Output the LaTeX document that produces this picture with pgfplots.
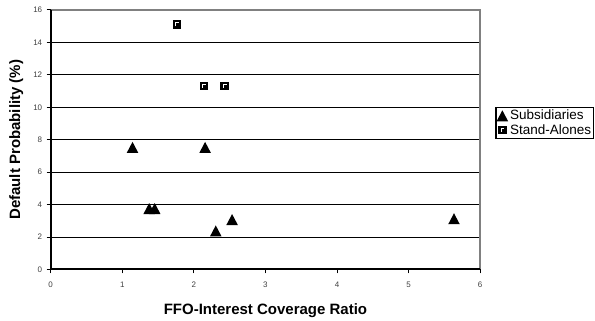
\documentclass[border=0pt]{standalone}
\usepackage{fontspec}
\setmainfont{Liberation Sans}
\usepackage{pgfplots}
\pgfplotsset{compat=1.18}
\pgfdeclareplotmark{excelsq}{%
  \pgfpathrectangle{\pgfpoint{-\pgfplotmarksize}{-\pgfplotmarksize}}{\pgfpoint{2\pgfplotmarksize}{2\pgfplotmarksize}}%
  \pgfsetfillcolor{black}\pgfusepath{fill}%
  \pgfsetstrokecolor{white}\pgfsetlinewidth{1pt}%
  \pgfpathmoveto{\pgfpoint{-0.3\pgfplotmarksize}{-0.45\pgfplotmarksize}}%
  \pgfpathlineto{\pgfpoint{-0.3\pgfplotmarksize}{0.35\pgfplotmarksize}}%
  \pgfpathlineto{\pgfpoint{0.45\pgfplotmarksize}{0.35\pgfplotmarksize}}%
  \pgfusepath{stroke}%
}
\pgfdeclareplotmark{exceltri}{%
  \pgfpathmoveto{\pgfpoint{0pt}{\pgfplotmarksize}}%
  \pgfpathlineto{\pgfpoint{1.05\pgfplotmarksize}{-\pgfplotmarksize}}%
  \pgfpathlineto{\pgfpoint{-1.05\pgfplotmarksize}{-\pgfplotmarksize}}%
  \pgfpathclose
  \pgfsetfillcolor{black}\pgfusepath{fill}%
}
\begin{document}
\begin{tikzpicture}
\begin{axis}[
  at={(0,0)}, anchor=origin,
  scale only axis, width=429.5pt, height=259.5pt,
  xmin=0, xmax=6, ymin=0, ymax=16,
  xtick={0,1,...,6}, ytick={0,2,...,16},
  ymajorgrids, grid style={black, line width=1pt},
  axis line style={draw=none},
  tick style={black, line width=1pt},
  tick align=outside, major tick length=4pt,
  xtick pos=bottom, ytick pos=left,
  ticklabel style={font=\fontsize{8}{9}\selectfont, text=black!75},
  xticklabel style={anchor=north, yshift=-5pt},
  yticklabel style={anchor=east, xshift=-1pt},
  /pgf/number format/assume math mode=true,
  xlabel={\bfseries FFO-Interest Coverage Ratio},
  ylabel={\bfseries Default Probability (\%)},
  label style={font=\fontsize{15}{16}\selectfont},
  xlabel style={at={(axis description cs:0.5,0)}, anchor=base, yshift=-45.5pt},
  ylabel style={at={(axis description cs:-0.0803,0.5)}, anchor=center},
  legend style={at={(1.0356,0.626)}, anchor=north west, draw=black, line width=1.2pt,
    font=\fontsize{13.5}{15}\selectfont, inner sep=0.5pt, row sep=-1pt,
    legend cell align=left, /tikz/every even column/.append style={column sep=1pt}},
  legend image code/.code={\draw[#1] plot coordinates {(0.2cm,0cm)};},
  clip=false,
]
\addplot[only marks, mark=exceltri, mark size=5.5pt, black] coordinates {
  (1.143,7.53) (2.157,7.53) (1.376,3.76) (1.453,3.76) (2.306,2.38) (2.534,3.08) (5.634,3.13)
};
\addlegendentry{Subsidiaries}
\addplot[only marks, mark=excelsq, mark size=4.2pt, black] coordinates {
  (1.761,15.11) (2.14,11.33) (2.43,11.33)
};
\addlegendentry{Stand-Alones}
\draw[gray, line width=1.5pt] (rel axis cs:0,1) -- (rel axis cs:1,1) -- (rel axis cs:1,0);
\draw[black, line width=2pt] (rel axis cs:0,1) -- (rel axis cs:0,0) -- (rel axis cs:1,0);
\end{axis}
\pgfresetboundingbox
\path[use as bounding box] (-50.7pt,-51.5pt) rectangle (544.3pt,269.5pt);
\end{tikzpicture}
\end{document}
